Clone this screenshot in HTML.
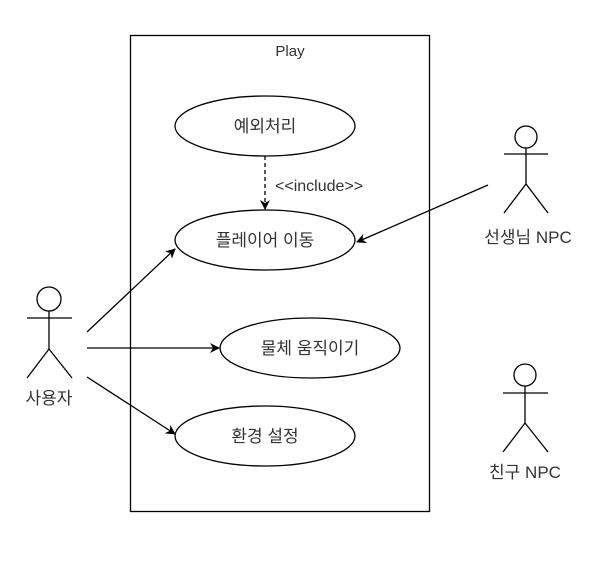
<!DOCTYPE html>
<html><head><meta charset="utf-8"><style>
html,body{margin:0;padding:0;background:#fff;}
svg text{font-family:"Liberation Sans","Noto Sans CJK KR",sans-serif;font-size:17px;fill:#333;}
</style></head><body>
<svg width="610" height="558" viewBox="0 0 610 558" xmlns="http://www.w3.org/2000/svg">
<defs>
<marker id="a" markerWidth="10" markerHeight="10" refX="9" refY="5" orient="auto" markerUnits="userSpaceOnUse">
<path d="M0,0 L10,5 L0,10 L3,5 Z" fill="#000"/></marker>
</defs>
<g stroke="#000" stroke-width="1.3" fill="none">
<rect x="130.5" y="35.5" width="299" height="476"/>
<ellipse cx="265" cy="126" rx="90" ry="30" fill="#fff"/>
<ellipse cx="265" cy="240" rx="90" ry="30" fill="#fff"/>
<ellipse cx="310" cy="348" rx="90" ry="30" fill="#fff"/>
<ellipse cx="265" cy="436" rx="90" ry="30" fill="#fff"/>
<line x1="265" y1="156" x2="265" y2="209" stroke-dasharray="4,3" marker-end="url(#a)"/>
<line x1="87" y1="332" x2="175" y2="249" marker-end="url(#a)"/>
<line x1="87" y1="348" x2="219" y2="348" marker-end="url(#a)"/>
<line x1="87" y1="377" x2="175" y2="434" marker-end="url(#a)"/>
<line x1="488" y1="185" x2="357" y2="242" marker-end="url(#a)"/>
<circle cx="49" cy="299" r="12"/>
<path d="M49 311 V349 M27 318 H72 M27 378 L49 349 L72 378"/>
<circle cx="526" cy="137" r="11"/>
<path d="M526 148 V184 M504 154 H548 M504 213 L526 184 L548 213"/>
<circle cx="525" cy="375" r="11"/>
<path d="M525 386 V423 M503 393 H548 M503 452 L525 423 L548 452"/>
</g>
<text x="290" y="56" text-anchor="middle" style="font-size:15px">Play</text>
<text x="265" y="132" text-anchor="middle">예외처리</text>
<text x="265" y="246" text-anchor="middle">플레이어 이동</text>
<text x="310" y="354" text-anchor="middle">물체 움직이기</text>
<text x="265" y="442" text-anchor="middle">환경 설정</text>
<text x="275" y="191" style="font-size:16px">&lt;&lt;include&gt;&gt;</text>
<text x="49" y="404" text-anchor="middle">사용자</text>
<text x="528" y="243" text-anchor="middle">선생님 NPC</text>
<text x="525" y="478" text-anchor="middle">친구 NPC</text>
</svg>
</body></html>
